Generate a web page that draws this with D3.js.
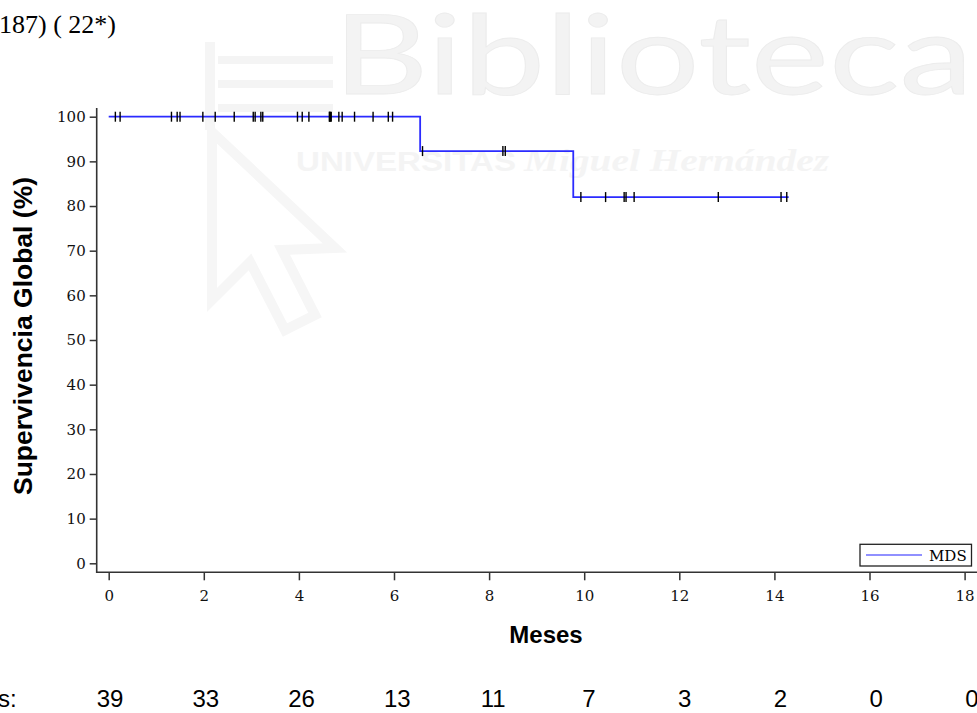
<!DOCTYPE html>
<html>
<head>
<meta charset="utf-8">
<script src="https://cdn.jsdelivr.net/npm/d3@7"></script>
<style>
  html, body { margin: 0; padding: 0; background: #fff; }
  svg { display: block; }
</style>
</head>
<body>
<svg id="chart" width="977" height="713"></svg>
<script>
// curva Kaplan-Meier
const stepTimes = [0, 6.55, 9.77];
const stepSurv = [100, 92.3, 82.0];
const endTime = 14.3;

// censuras (+)
const censorTimes = [
  0.14, 0.24, 1.32, 1.44, 1.50, 1.98, 2.24, 2.64, 3.04, 3.08, 3.20, 3.24,
  3.97, 4.07, 4.21, 4.64, 4.65, 4.66, 4.68, 4.84, 4.91, 5.17, 5.56, 5.88, 5.97,
  6.60, 8.29, 8.34,
  9.93, 10.45, 10.84, 10.88, 11.05, 12.82, 14.14, 14.26
];

// pacientes en riesgo
const riskTimes = [0, 2, 4, 6, 8, 10, 12, 14, 16, 18];
const riskCounts = [39, 33, 26, 13, 11, 7, 3, 2, 0, 0];

const xTicks = [0, 2, 4, 6, 8, 10, 12, 14, 16, 18];
const yTicks = [0, 10, 20, 30, 40, 50, 60, 70, 80, 90, 100];
const seriesName = 'MDS';

const svg = d3.select('#chart');

const x = d3.scaleLinear().domain([0, 18]).range([108.7, 964.6]);
const y = d3.scaleLinear().domain([0, 100]).range([563.3, 116.7]);
const xRisk = d3.scaleLinear().domain([0, 18]).range([110, 972]);

const axisX = 96.7, axisY = 572.3;
const serif = '"Liberation Serif", "Times New Roman", serif';
const tickFont = '"DejaVu Serif", serif';
const sans = '"Liberation Sans", Arial, sans-serif';

// marca de agua (fondo)
const wm = svg.append('g').attr('class', 'watermark');
wm.append('text')
  .attr('x', 333).attr('y', 94)
  .attr('textLength', 640).attr('lengthAdjust', 'spacingAndGlyphs')
  .style('font-family', 'Lato, sans-serif').style('font-weight', 400)
  .style('font-size', '110px')
  .attr('fill', '#f3f3f3').attr('stroke', '#ececec').attr('stroke-width', 0.8)
  .text('Biblioteca');
wm.append('text')
  .attr('x', 296).attr('y', 171)
  .attr('textLength', 220).attr('lengthAdjust', 'spacingAndGlyphs')
  .style('font-family', sans).style('font-weight', 'bold').style('font-size', '27px')
  .attr('fill', '#f4f4f4')
  .text('UNIVERSITAS');
wm.append('text')
  .attr('x', 524).attr('y', 171)
  .attr('textLength', 305).attr('lengthAdjust', 'spacingAndGlyphs')
  .style('font-family', serif).style('font-weight', 'bold').style('font-style', 'italic')
  .style('font-size', '32px')
  .attr('fill', '#f4f4f4')
  .text('Miguel Hernández');
wm.append('rect').attr('x', 205).attr('y', 42).attr('width', 10).attr('height', 88).attr('fill', '#f5f5f5');
[56, 80, 104].forEach(yy => {
  wm.append('rect').attr('x', 218).attr('y', yy).attr('width', 115).attr('height', 8).attr('fill', '#f4f4f4');
});
wm.append('path')
  .attr('d', 'M212,132 L212,300 L250,262 L285,330 L315,315 L282,250 L335,248 Z')
  .attr('fill', 'none').attr('stroke', '#f6f6f6').attr('stroke-width', 10);

// texto superior
svg.append('text')
  .attr('x', -1).attr('y', 33)
  .style('font-family', serif).style('font-size', '26px')
  .text('187) ( 22*)');

// ejes
const gx = svg.append('g')
  .attr('transform', `translate(0,${axisY})`)
  .call(d3.axisBottom(x).tickValues(xTicks).tickSize(8).tickPadding(10).tickFormat(d3.format('d')));
const gy = svg.append('g')
  .attr('transform', `translate(${axisX},0)`)
  .call(d3.axisLeft(y).tickValues(yTicks).tickSize(7).tickPadding(4).tickFormat(d3.format('d')));

[gx, gy].forEach(g => {
  g.select('.domain').remove();
  g.selectAll('line').attr('stroke', '#333').attr('stroke-width', 1.5);
  g.selectAll('text')
    .attr('fill', '#111')
    .style('font-family', tickFont).style('font-size', '15px');
});

svg.append('line')
  .attr('x1', axisX).attr('x2', 977).attr('y1', axisY).attr('y2', axisY)
  .attr('stroke', '#333').attr('stroke-width', 1.6);
svg.append('line')
  .attr('x1', axisX).attr('x2', axisX).attr('y1', 108).attr('y2', axisY + 0.8)
  .attr('stroke', '#333').attr('stroke-width', 1.6);

// curva escalonada
const pts = stepTimes.map((t, i) => [t, stepSurv[i]]);
pts.push([endTime, stepSurv[stepSurv.length - 1]]);
const line = d3.line()
  .x(d => x(d[0]))
  .y(d => y(d[1]))
  .curve(d3.curveStepAfter);

svg.append('path')
  .datum(pts)
  .attr('d', line)
  .attr('fill', 'none')
  .attr('stroke', '#2b2bff')
  .attr('stroke-width', 1.8);

const survAt = t => stepSurv[d3.bisectRight(stepTimes, t) - 1];

svg.append('g').selectAll('line')
  .data(censorTimes)
  .join('line')
  .attr('x1', d => x(d)).attr('x2', d => x(d))
  .attr('y1', d => y(survAt(d)) - 5)
  .attr('y2', d => y(survAt(d)) + 5)
  .attr('stroke', '#000')
  .attr('stroke-width', 1.4);

// leyenda
const lg = svg.append('g');
lg.append('rect')
  .attr('x', 860).attr('y', 544.3).attr('width', 111.5).attr('height', 21.7)
  .attr('fill', '#fff').attr('stroke', '#222').attr('stroke-width', 1.3);
lg.append('line')
  .attr('x1', 866).attr('x2', 922).attr('y1', 555).attr('y2', 555)
  .attr('stroke', '#6b6bff').attr('stroke-width', 1.6);
lg.append('text')
  .attr('x', 929).attr('y', 560.5)
  .style('font-family', tickFont).style('font-size', '15px')
  .text(seriesName);

// titulos de ejes
svg.append('text')
  .attr('x', 546).attr('y', 643)
  .attr('text-anchor', 'middle')
  .style('font-family', sans).style('font-weight', 'bold').style('font-size', '24px')
  .text('Meses');

svg.append('text')
  .attr('transform', 'translate(32,336) rotate(-90)')
  .attr('text-anchor', 'middle')
  .style('font-family', sans).style('font-weight', 'bold').style('font-size', '26.5px')
  .text('Supervivencia Global (%)');

// fila de pacientes en riesgo
svg.append('text')
  .attr('x', -2).attr('y', 707)
  .style('font-family', sans).style('font-size', '24px')
  .text('s:');

svg.append('g').selectAll('text')
  .data(riskTimes)
  .join('text')
  .attr('x', d => xRisk(d))
  .attr('y', 707)
  .attr('text-anchor', 'middle')
  .style('font-family', sans).style('font-size', '24px')
  .text((d, i) => riskCounts[i]);
</script>
</body>
</html>
